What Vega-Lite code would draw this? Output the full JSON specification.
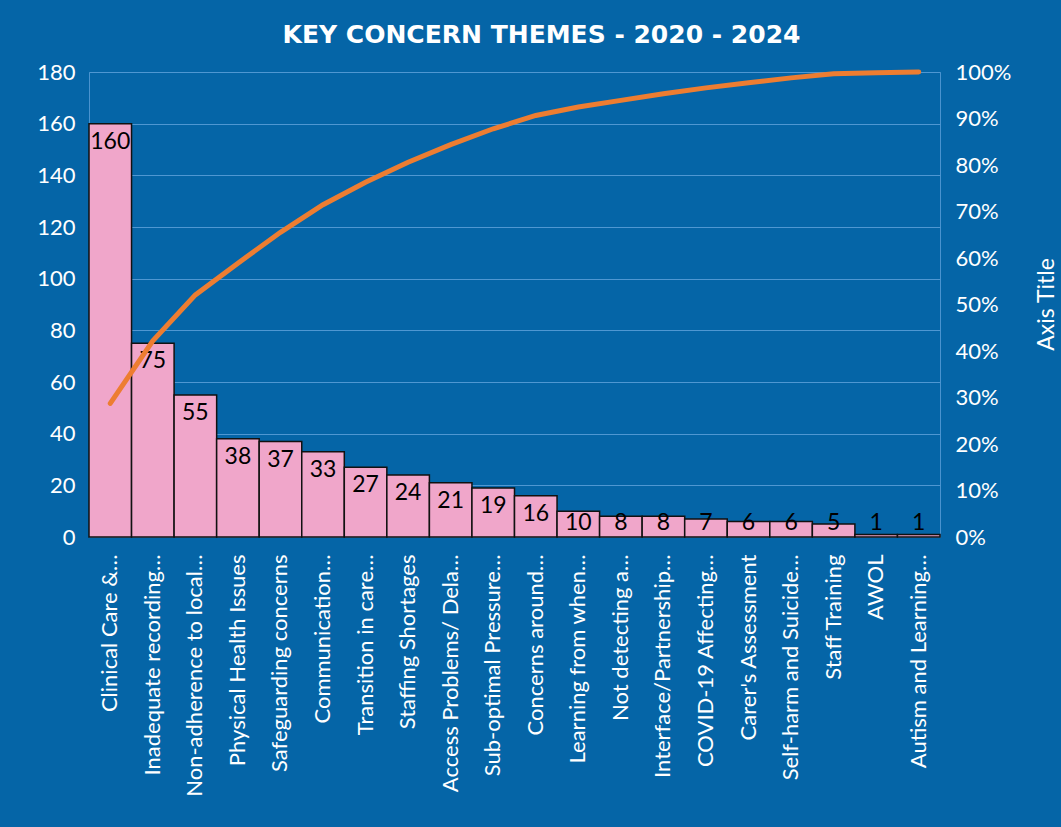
{
  "$schema": "https://vega.github.io/schema/vega-lite/v6.json",
  "width": 851,
  "height": 465,
  "autosize": {"type": "none"},
  "padding": {"left": 89, "top": 72, "right": 121, "bottom": 290},
  "background": "#0565a7",
  "title": {
    "text": "KEY CONCERN THEMES - 2020 - 2024",
    "color": "white",
    "font": "DejaVu Sans",
    "fontWeight": "bold",
    "fontSize": 25,
    "anchor": "middle",
    "dx": 27,
    "offset": 13
  },
  "config": {
    "view": {"stroke": "#4a93cf", "strokeWidth": 1},
    "axis": {
      "labelFont": "Lato",
      "labelColor": "white",
      "labelFontSize": 22,
      "ticks": false,
      "domain": false,
      "grid": false
    }
  },
  "data": {
    "values": [
      {"theme": "Clinical Care &…", "count": 160, "cum": 0.2873},
      {"theme": "Inadequate recording…", "count": 75, "cum": 0.4219},
      {"theme": "Non-adherence to local…", "count": 55, "cum": 0.5206},
      {"theme": "Physical Health Issues", "count": 38, "cum": 0.5889},
      {"theme": "Safeguarding concerns", "count": 37, "cum": 0.6553},
      {"theme": "Communication…", "count": 33, "cum": 0.7145},
      {"theme": "Transition in care…", "count": 27, "cum": 0.7630},
      {"theme": "Staffing Shortages", "count": 24, "cum": 0.8061},
      {"theme": "Access Problems/ Dela…", "count": 21, "cum": 0.8438},
      {"theme": "Sub-optimal Pressure…", "count": 19, "cum": 0.8779},
      {"theme": "Concerns around…", "count": 16, "cum": 0.9066},
      {"theme": "Learning from when…", "count": 10, "cum": 0.9246},
      {"theme": "Not detecting a…", "count": 8, "cum": 0.9390},
      {"theme": "Interface/Partnership…", "count": 8, "cum": 0.9533},
      {"theme": "COVID-19 Affecting…", "count": 7, "cum": 0.9659},
      {"theme": "Carer's Assessment", "count": 6, "cum": 0.9767},
      {"theme": "Self-harm and Suicide…", "count": 6, "cum": 0.9874},
      {"theme": "Staff Training", "count": 5, "cum": 0.9964},
      {"theme": "AWOL", "count": 1, "cum": 0.9982},
      {"theme": "Autism and Learning…", "count": 1, "cum": 1.0}
    ]
  },
  "encoding": {
    "x": {
      "field": "theme",
      "type": "nominal",
      "sort": null,
      "scale": {"paddingInner": 0, "paddingOuter": 0},
      "axis": {
        "title": null,
        "labelAngle": -90,
        "labelAlign": "right",
        "labelBaseline": "middle",
        "labelPadding": 17,
        "labelLimit": 400,
        "labelFontSize": 22
      }
    }
  },
  "layer": [
    {
      "layer": [
        {
          "mark": {"type": "bar", "fill": "#f0a6ca", "stroke": "#111111", "strokeWidth": 1.5},
          "encoding": {
            "y": {
              "field": "count",
              "type": "quantitative",
              "title": null,
              "scale": {"domain": [0, 180]},
              "axis": {
                "values": [0, 20, 40, 60, 80, 100, 120, 140, 160, 180],
                "grid": true,
                "gridColor": "#4f97d2",
                "gridWidth": 1.2,
                "labelPadding": 14
              }
            }
          }
        },
        {
          "transform": [{"calculate": "max(datum.count - 7, 5.4)", "as": "labelY"}],
          "mark": {"type": "text", "color": "black", "font": "Lato", "fontSize": 23, "baseline": "middle"},
          "encoding": {
            "y": {"field": "labelY", "type": "quantitative", "title": null},
            "text": {"field": "count", "type": "quantitative"}
          }
        }
      ]
    },
    {
      "mark": {"type": "line", "color": "#ed7d31", "strokeWidth": 5, "strokeCap": "round"},
      "encoding": {
        "y": {
          "field": "cum",
          "type": "quantitative",
          "scale": {"domain": [0, 1]},
          "axis": {
            "orient": "right",
            "format": "%",
            "values": [0, 0.1, 0.2, 0.3, 0.4, 0.5, 0.6, 0.7, 0.8, 0.9, 1],
            "title": "Axis Title",
            "titleColor": "white",
            "titleFont": "Lato",
            "titleFontSize": 23,
            "titleFontWeight": "normal",
            "titleAngle": 270,
            "titleX": 106,
            "titleY": 232,
            "titleAlign": "center",
            "titleBaseline": "middle",
            "labelPadding": 15
          }
        }
      }
    }
  ],
  "resolve": {"scale": {"y": "independent"}}
}
